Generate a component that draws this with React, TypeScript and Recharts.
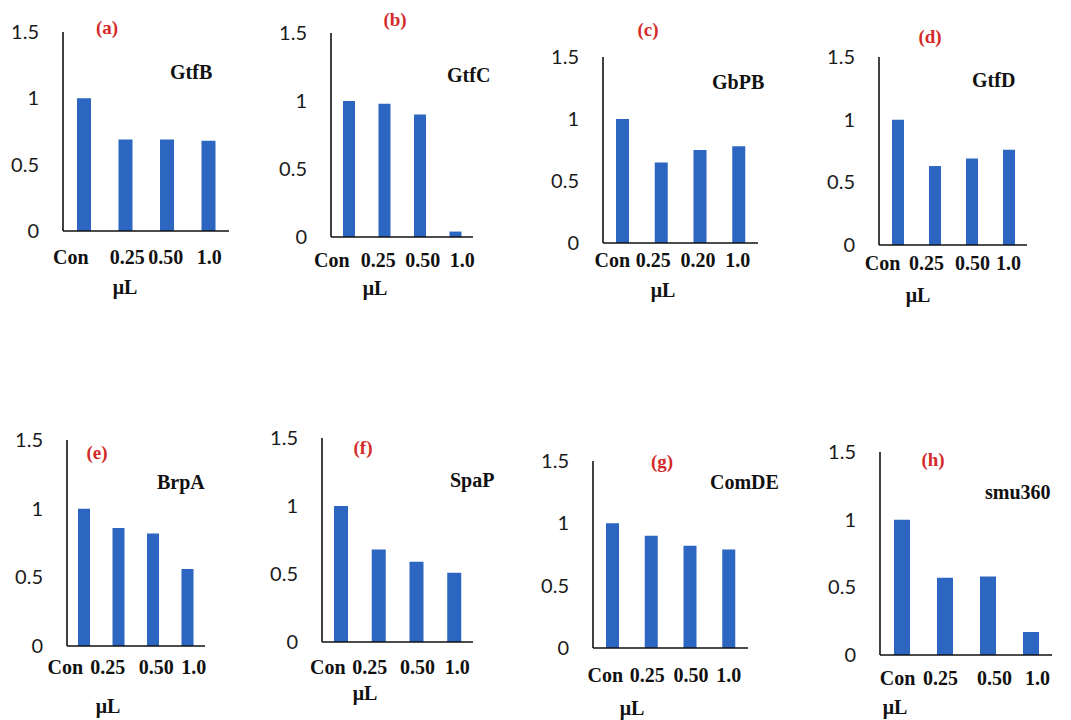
import React from 'react';
import { BarChart, Bar, XAxis, YAxis } from 'recharts';

// categories per panel (panel c is labelled 0.20 in the source figure)
const doses = ['Con', '0.25', '0.50', '1.0'];
const dosesC = ['Con', '0.25', '0.20', '1.0'];
const yTicks = [0, 0.5, 1, 1.5];

// relative expression values
const gtfB = [1.0, 0.69, 0.69, 0.68];
const gtfC = [1.0, 0.98, 0.9, 0.04];
const gbpB = [1.0, 0.65, 0.75, 0.78];
const gtfD = [1.0, 0.63, 0.69, 0.76];
const brpA = [1.0, 0.86, 0.82, 0.56];
const spaP = [1.0, 0.68, 0.59, 0.51];
const comDE = [1.0, 0.9, 0.82, 0.79];
const smu360 = [1.0, 0.57, 0.58, 0.17];

const BAR_COLOR = '#2d66c0';
const SERIF = '"Liberation Serif", "Times New Roman", serif';
const SANS = 'Lato, "Open Sans", sans-serif';

type Panel = {
  tag: string;
  gene: string;
  cats: string[];
  values: number[];
  // layout (page px): y axis x, top (1.5), baseline (0), right end
  ax: number;
  top: number;
  base: number;
  right: number;
  xTickGap: number;
  tickDx: number[];
  barSize: number;
  mu: [number, number];
  tagPos: [number, number];
  genePos: [number, number];
};

const panels: Panel[] = [
  { tag: '(a)', gene: 'GtfB', cats: doses, values: gtfB, ax: 63, top: 32, base: 231, right: 229, xTickGap: 26, tickDx: [-13, 2, -1, 1], barSize: 14, mu: [125, 287], tagPos: [107, 28], genePos: [170, 72] },
  { tag: '(b)', gene: 'GtfC', cats: doses, values: gtfC, ax: 331, top: 33, base: 237, right: 473, xTickGap: 23, tickDx: [-17, -6, 3, 7], barSize: 12, mu: [375, 288], tagPos: [395, 20], genePos: [447, 75] },
  { tag: '(c)', gene: 'GbPB', cats: dosesC, values: gbpB, ax: 603, top: 57, base: 243, right: 758, xTickGap: 17, tickDx: [-10, -8, -2, -1], barSize: 13, mu: [663, 290], tagPos: [648, 30], genePos: [712, 82] },
  { tag: '(d)', gene: 'GtfD', cats: doses, values: gtfD, ax: 879, top: 57, base: 245, right: 1027, xTickGap: 18, tickDx: [-15, -8, 1, 0], barSize: 12, mu: [918, 295], tagPos: [930, 37], genePos: [972, 80] },
  { tag: '(e)', gene: 'BrpA', cats: doses, values: brpA, ax: 67, top: 440, base: 646, right: 205, xTickGap: 21, tickDx: [-19, -11, 3, 6], barSize: 12, mu: [108, 706], tagPos: [97, 453], genePos: [157, 482] },
  { tag: '(f)', gene: 'SpaP', cats: doses, values: spaP, ax: 322, top: 438, base: 642, right: 473, xTickGap: 25, tickDx: [-13, -9, 1, 3], barSize: 14, mu: [365, 693], tagPos: [363, 448], genePos: [450, 480] },
  { tag: '(g)', gene: 'ComDE', cats: doses, values: comDE, ax: 593, top: 461, base: 648, right: 748, xTickGap: 27, tickDx: [-7, -4, 1, 0], barSize: 13, mu: [632, 708], tagPos: [662, 462], genePos: [710, 482] },
  { tag: '(h)', gene: 'smu360', cats: doses, values: smu360, ax: 880, top: 452, base: 655, right: 1052, xTickGap: 23, tickDx: [-4, -4, 7, 7], barSize: 16, mu: [895, 707], tagPos: [933, 460], genePos: [985, 492] },
];

const Y_W = 60;
const M_TOP = 20;
const M_RIGHT = 10;
const X_H = 40;

const XTick = (props: any) => {
  const dx = props.offsets ? props.offsets[props.index] || 0 : 0;
  return (
    <text x={props.x + dx} y={props.y} dy={7} textAnchor="middle" fontFamily={SERIF} fontWeight="bold" fontSize={20} fill="#111">
      {props.payload.value}
    </text>
  );
};

const YTick = (props: any) => (
  <text x={props.x} y={props.y} dy={7} textAnchor="end" fontFamily={SANS} fontSize={20} fill="#1a1a1a">
    {props.payload.value}
  </text>
);

const GenePanel: React.FC<{ p: Panel }> = ({ p }) => {
  const data = p.cats.map((c, i) => ({ dose: c, value: p.values[i] }));
  const w = p.right - p.ax + Y_W + M_RIGHT;
  const h = p.base - p.top + M_TOP + X_H;
  return (
    <>
      <div style={{ position: 'absolute', left: p.ax - Y_W, top: p.top - M_TOP }}>
        <BarChart width={w} height={h} data={data} margin={{ top: M_TOP, right: M_RIGHT, bottom: 0, left: 0 }}>
          <XAxis
            dataKey="dose"
            interval={0}
            height={X_H}
            tickSize={0}
            tickMargin={p.xTickGap}
            tick={<XTick offsets={p.tickDx} />}
            axisLine={{ stroke: '#111', strokeWidth: 1.6 }}
            tickLine={false}
          />
          <YAxis
            width={Y_W}
            domain={[0, 1.5]}
            ticks={yTicks}
            tickSize={0}
            tickMargin={24}
            tick={<YTick />}
            axisLine={{ stroke: '#111', strokeWidth: 1.6 }}
            tickLine={false}
          />
          <Bar dataKey="value" fill={BAR_COLOR} barSize={p.barSize} isAnimationActive={false} />
        </BarChart>
      </div>
      <div style={{ position: 'absolute', left: p.tagPos[0], top: p.tagPos[1], transform: 'translate(-50%, -50%)', color: '#d42a2a', fontFamily: SERIF, fontWeight: 'bold', fontSize: 19, whiteSpace: 'nowrap' }}>
        {p.tag}
      </div>
      <div style={{ position: 'absolute', left: p.genePos[0], top: p.genePos[1], transform: 'translateY(-50%)', color: '#111', fontFamily: SERIF, fontWeight: 'bold', fontSize: 20, whiteSpace: 'nowrap' }}>
        {p.gene}
      </div>
      <div style={{ position: 'absolute', left: p.mu[0], top: p.mu[1], transform: 'translate(-50%, -50%)', color: '#111', fontFamily: SERIF, fontWeight: 'bold', fontSize: 20, whiteSpace: 'nowrap', lineHeight: 1 }}>
        μL
      </div>
    </>
  );
};

export default function App() {
  return (
    <div style={{ position: 'absolute', left: 0, top: 0, width: 1071, height: 720, background: '#fff', overflow: 'hidden' }}>
      {panels.map((p) => (
        <GenePanel key={p.tag} p={p} />
      ))}
    </div>
  );
}
